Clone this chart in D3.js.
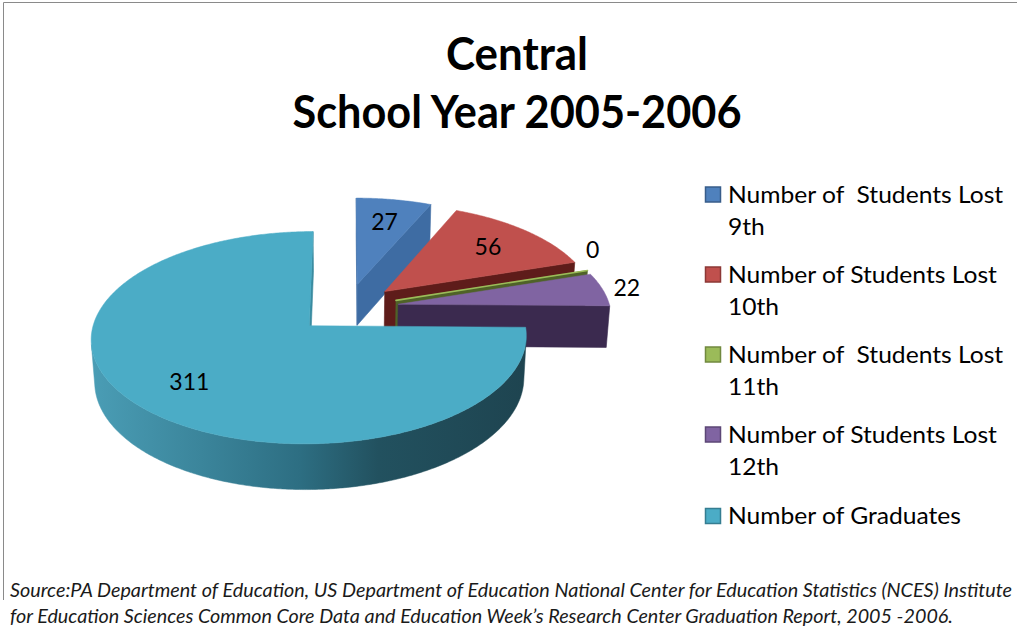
<!DOCTYPE html>
<html>
<head>
<meta charset="utf-8">
<script src="https://cdn.jsdelivr.net/npm/d3@7"></script>
<style>
  html, body { margin: 0; padding: 0; background: #fff; }
  svg { display: block; }
  text { font-family: Lato, "Open Sans", sans-serif; white-space: pre; }
</style>
</head>
<body>
<svg id="chart" width="1017" height="633"></svg>
<script>
// ---- data ----
const categories = [
  ["Number of  Students Lost", "9th"],
  ["Number of Students Lost", "10th"],
  ["Number of  Students Lost", "11th"],
  ["Number of Students Lost", "12th"],
  ["Number of Graduates"]
];
const values = [27, 56, 0, 22, 311];
const titleLines = ["Central", "School Year 2005-2006"];
const sourceLines = [
  "Source:PA Department of Education, US Department of Education National Center for Education Statistics (NCES) Institute",
  "for Education Sciences Common Core Data and Education Week\u2019s Research Center Graduation Report, 2005 -2006."
];

// ---- colours ----
const topColors    = ["#4F81BD", "#C0504D", "#9BBB59", "#8064A2", "#4BACC6"];
const cutColors    = ["#3E6CA3", "#5E1C1A", "#4F6228", "#3B2A4F", "#3A8BA0"];
const legendStroke = ["#385D8A", "#8C3836", "#71893F", "#5C4776", "#357D91"];

const svg = d3.select("#chart");

// ---- frame ----
svg.append("line").attr("x1", 3.5).attr("y1", 2.5).attr("x2", 1017).attr("y2", 2.5)
  .attr("stroke", "#8a8a8a").attr("stroke-width", 1);
svg.append("line").attr("x1", 3.5).attr("y1", 2.5).attr("x2", 3.5).attr("y2", 600)
  .attr("stroke", "#8a8a8a").attr("stroke-width", 1);

// ---- 3D pie projection ----
const tilt = 28.4 * Math.PI / 180;   // elevation of the eye above the pie plane
const eyeDist = 1680;                // perspective distance
const R = 212;                       // pie radius (world units)
const depth = 48;                    // pie thickness
const explode = 52;                  // radial offset of every slice
const cx = 347, cy = 308;            // screen position of the pie centre
const cosT = Math.cos(tilt), sinT = Math.sin(tilt);

function proj(x, y, z) {
  const Yc = y * cosT - z * sinT;
  const Zc = y * sinT + z * cosT;
  const s = eyeDist / (eyeDist - Zc);
  return [cx + x * s, cy - Yc * s, Zc];
}

const pie = d3.pie().sort(null).value(d => d);
const slices = pie(values).map((a, i) => {
  const mid = (a.startAngle + a.endAngle) / 2;
  return {
    i, value: a.value, a0: a.startAngle, a1: a.endAngle, mid,
    ox: explode * Math.sin(mid),
    oz: -explode * Math.cos(mid)
  };
});

function pt(s, r, th, y) {
  return proj(s.ox + r * Math.sin(th), y, s.oz - r * Math.cos(th));
}
function arcPts(s, a0, a1, y) {
  const n = Math.max(2, Math.ceil(Math.abs(a1 - a0) / 0.01));
  const out = [];
  for (let k = 0; k <= n; k++) out.push(pt(s, R, a0 + (a1 - a0) * k / n, y));
  return out;
}
const line = d3.line().x(p => p[0]).y(p => p[1]);
const poly = pts => line(pts) + "Z";

// eye position in world coordinates
const eye = [0, eyeDist * sinT, eyeDist * cosT];
function sideVisible(s, th) {
  return -s.ox * Math.sin(th) + (s.oz - eye[2]) * Math.cos(th) - R > 0;
}
function faceVisible(s, n) {
  return (eye[0] - s.ox) * n[0] + eye[1] * n[1] + (eye[2] - s.oz) * n[2] > 0;
}

// gradient for the curved rim of the pie
const defs = svg.append("defs");
const rimGrad = defs.append("linearGradient").attr("id", "rim")
  .attr("gradientUnits", "userSpaceOnUse")
  .attr("x1", 92).attr("y1", 0).attr("x2", 526).attr("y2", 0);
[[0, "#4A9DB5"], [0.25, "#3B859B"], [0.48, "#2D6E82"], [0.66, "#22515F"], [1, "#1E4450"]]
  .forEach(([o, c]) => rimGrad.append("stop").attr("offset", o).attr("stop-color", c));
const rimFill = i => i === 4 ? "url(#rim)" : d3.color(cutColors[i]).toString();

const gPie = svg.append("g");

// paint slices far to near
const order = slices.slice().sort((a, b) =>
  pt(a, R * 0.5, a.mid, 0)[2] - pt(b, R * 0.5, b.mid, 0)[2]);

order.forEach(s => {
  const g = gPie.append("g");

  // curved outer rim: only the runs that face the eye
  const n = Math.max(2, Math.ceil((s.a1 - s.a0) / 0.01));
  let run = [];
  const flush = () => {
    if (run.length > 1) {
      const topEdge = run.map(th => pt(s, R, th, 0));
      const botEdge = run.slice().reverse().map(th => pt(s, R, th, -depth));
      g.append("path").attr("d", poly(topEdge.concat(botEdge)))
        .attr("fill", rimFill(s.i)).attr("stroke", rimFill(s.i)).attr("stroke-width", 0.5);
    }
    run = [];
  };
  for (let k = 0; k <= n; k++) {
    const th = s.a0 + (s.a1 - s.a0) * k / n;
    if (sideVisible(s, th)) run.push(th); else flush();
  }
  flush();

  // flat cut faces at both ends of the wedge
  const faces = [
    { a: s.a0, n: [-Math.cos(s.a0), 0, -Math.sin(s.a0)] },
    { a: s.a1, n: [Math.cos(s.a1), 0, Math.sin(s.a1)] }
  ];
  faces.forEach(f => {
    if (!faceVisible(s, f.n)) return;
    const q = [pt(s, 0, f.a, 0), pt(s, R, f.a, 0), pt(s, R, f.a, -depth), pt(s, 0, f.a, -depth)];
    g.append("path").attr("d", poly(q))
      .attr("fill", cutColors[s.i]).attr("stroke", cutColors[s.i]).attr("stroke-width", 0.6)
      .attr("stroke-linejoin", "round");
  });

  // top face
  const top = [pt(s, 0, s.a0, 0)].concat(arcPts(s, s.a0, s.a1, 0));
  g.append("path").attr("d", poly(top))
    .attr("fill", topColors[s.i])
    .attr("stroke", topColors[s.i])
    .attr("stroke-width", s.value === 0 ? 1.6 : 0.5)
    .attr("stroke-linejoin", "round");
});

// ---- data labels ----
const total = d3.sum(values);
slices.forEach(s => {
  const share = s.value / total;
  let r = 0.72 * R, y = 0;
  if (s.value === 0) { r = 1.02 * R; y = depth * 0.5; }
  else if (share < 0.06) { r = 1.12 * R; }
  const p = pt(s, r, s.mid, y);
  svg.append("text")
    .attr("x", p[0]).attr("y", p[1]).attr("dy", "0.36em")
    .attr("text-anchor", "middle")
    .attr("font-size", 23).attr("fill", "#000")
    .text(d3.format("d")(s.value));
});

// ---- title ----
const titleWidths = [142, 449];
titleLines.forEach((t, k) => {
  svg.append("text")
    .attr("x", 517).attr("y", 70 + k * 58)
    .attr("text-anchor", "middle")
    .attr("font-size", 46).attr("font-weight", 700).attr("fill", "#000")
    .attr("textLength", titleWidths[k]).attr("lengthAdjust", "spacingAndGlyphs")
    .text(t);
});

// ---- legend ----
const legend = svg.append("g");
const probe = legend.append("text").attr("font-size", 22.5).text("Number of Graduates");
const legendScale = 233 / probe.node().getComputedTextLength();
probe.remove();
const legendBase = [202.5, 282.5, 362.5, 442.5, 524];
categories.forEach((lines, i) => {
  legend.append("rect")
    .attr("x", 705.5).attr("y", legendBase[i] - 15.5)
    .attr("width", 15).attr("height", 15)
    .attr("fill", topColors[i]).attr("stroke", legendStroke[i]).attr("stroke-width", 1.5);
  lines.forEach((t, k) => {
    const tx = legend.append("text")
      .attr("x", 728).attr("y", legendBase[i] + k * 32.7)
      .attr("font-size", 22.5).attr("fill", "#000")
      .text(t);
    const w = tx.node().getComputedTextLength();
    tx.attr("textLength", w * legendScale).attr("lengthAdjust", "spacingAndGlyphs");
  });
});

// ---- source note ----
const sourceWidths = [1002, 943];
sourceLines.forEach((t, k) => {
  svg.append("text")
    .attr("x", 10).attr("y", 597 + k * 26)
    .attr("font-size", 19).attr("font-style", "italic").attr("fill", "#1a1a1a")
    .attr("textLength", sourceWidths[k]).attr("lengthAdjust", "spacingAndGlyphs")
    .text(t);
});
</script>
</body>
</html>
